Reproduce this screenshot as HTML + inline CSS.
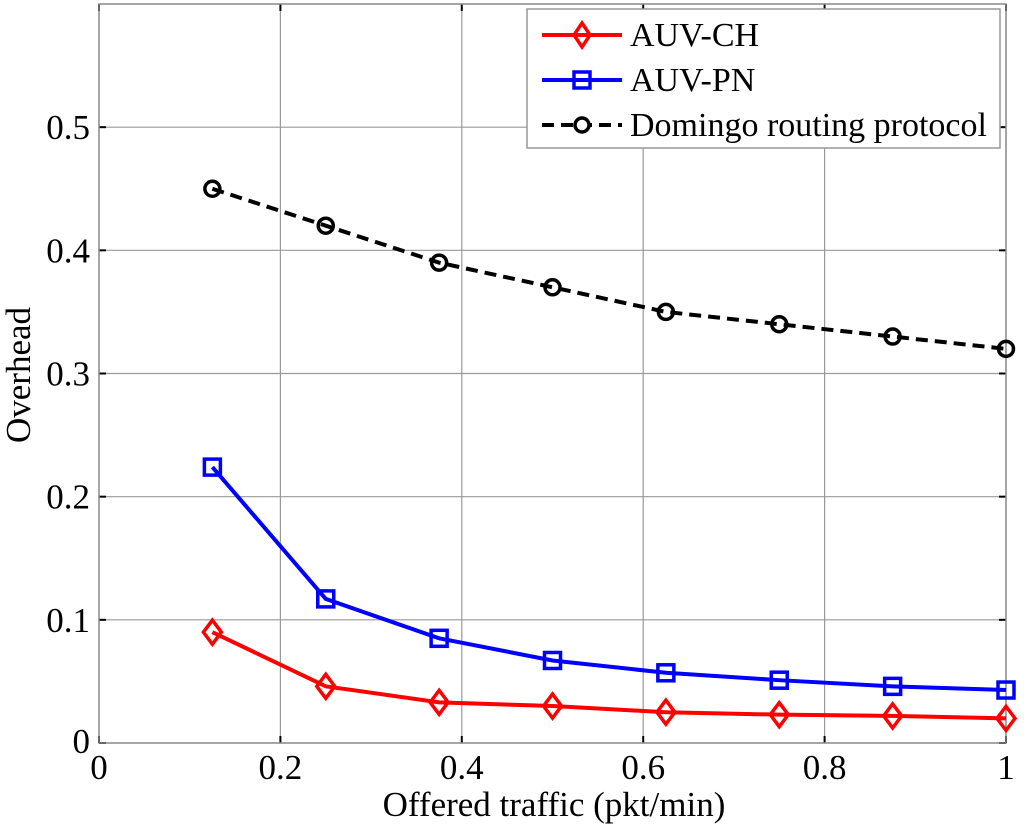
<!DOCTYPE html>
<html><head><meta charset="utf-8"><style>body{margin:0;background:#fff}svg{display:block}text{font-family:"Liberation Serif",serif;fill:#000}</style></head>
<body>
<svg id="chart" width="1024" height="831">
<rect width="1024" height="831" fill="#fff"/>
<g id="grid"></g>
<g id="axes"></g>
<g id="series"></g>
<text x="554" y="816" font-size="35" text-anchor="middle">Offered traffic (pkt/min)</text>
<text transform="translate(30,375) rotate(-90)" font-size="35" text-anchor="middle">Overhead</text>
<g>
<rect x="527" y="9" width="473" height="139" fill="#fff" stroke="#999" stroke-width="1.5"/>
<g>
<line x1="542" y1="35" x2="622" y2="35" stroke="#f00" stroke-width="4"/>
<path d="M582,23 L590,35 L582,47 L574,35Z" fill="none" stroke="#f00" stroke-width="3.5"/>
<text x="630" y="46" font-size="34">AUV-CH</text></g>
<g>
<line x1="542" y1="80" x2="622" y2="80" stroke="#00f" stroke-width="4"/>
<rect x="574" y="72" width="16" height="16" fill="none" stroke="#00f" stroke-width="3.5"/>
<text x="630" y="91" font-size="34">AUV-PN</text></g>
<g>
<line x1="542" y1="125" x2="622" y2="125" stroke="#000" stroke-width="4" stroke-dasharray="12,7"/>
<circle cx="582" cy="125" r="7" fill="#fff" stroke="#000" stroke-width="3.5"/>
<text x="630" y="136" font-size="34">Domingo routing protocol</text></g>
</g>
</svg>
<script>
const xValues=[0.125,0.25,0.375,0.5,0.625,0.75,0.875,1];
const chValues=[0.090,0.046,0.033,0.030,0.025,0.023,0.022,0.020];
const pnValues=[0.224,0.117,0.085,0.067,0.057,0.051,0.046,0.043];
const domValues=[0.45,0.42,0.39,0.37,0.35,0.34,0.33,0.32];
const xTicks=[0,0.2,0.4,0.6,0.8,1];
const xTickLabels=["0","0.2","0.4","0.6","0.8","1"];
const yTicks=[0,0.1,0.2,0.3,0.4,0.5];
const yTickLabels=["0","0.1","0.2","0.3","0.4","0.5"];
const NS="http://www.w3.org/2000/svg";
const L=99,R=1006,T=4,B=743;
function sx(v){return L+(R-L)*v;}
function sy(v){return B-(B-T)*v/0.6;}
function mk(tag,attrs,parent){const e=document.createElementNS(NS,tag);for(const k in attrs)e.setAttribute(k,attrs[k]);parent.appendChild(e);return e;}
const grid=document.getElementById('grid'),axes=document.getElementById('axes'),ser=document.getElementById('series');
xTicks.forEach((t,i)=>{
 if(t>0&&t<1){const g=mk('line',{x1:sx(t),x2:sx(t),y1:T,y2:B,stroke:'#999','stroke-width':1.2},grid);
 
 }
 const tk=mk('text',{x:sx(t),y:B+36,'font-size':35,'text-anchor':'middle'},axes);tk.textContent=xTickLabels[i];
 
 
 mk('line',{x1:sx(t),x2:sx(t),y1:B,y2:B-7,stroke:'#000','stroke-width':2},axes);
 mk('line',{x1:sx(t),x2:sx(t),y1:T,y2:T+7,stroke:'#000','stroke-width':2},axes);
});
yTicks.forEach((t,i)=>{
 if(t>0){const g=mk('line',{x1:L,x2:R,y1:sy(t),y2:sy(t),stroke:'#999','stroke-width':1.2},grid);
 
 }
 const tk=mk('text',{x:L-9,y:sy(t)+(t===0?10:12),'font-size':35,'text-anchor':'end'},axes);tk.textContent=yTickLabels[i];
 
 
 mk('line',{x1:L,x2:L+7,y1:sy(t),y2:sy(t),stroke:'#000','stroke-width':2},axes);
 mk('line',{x1:R,x2:R-7,y1:sy(t),y2:sy(t),stroke:'#000','stroke-width':2},axes);
});
const fr=mk('rect',{x:L,y:T,width:R-L,height:B-T,fill:'none',stroke:'#888','stroke-width':1.5},axes);


function draw(vals,color,dash,marker,name){
 const g=mk('g',{},ser);
 
 
 const pts=vals.map((v,i)=>sx(xValues[i])+','+sy(v)).join(' ');
 const a={points:pts,fill:'none',stroke:color,'stroke-width':4};if(dash)a['stroke-dasharray']=dash;
 mk('polyline',a,g);
 vals.forEach((v,i)=>{const x=sx(xValues[i]),y=sy(v);let m;
  if(marker==='d')m=mk('path',{d:`M${x},${y-12}L${x+9},${y}L${x},${y+12}L${x-9},${y}Z`,fill:'none',stroke:color,'stroke-width':3.5},g);
  else if(marker==='s')m=mk('rect',{x:x-8,y:y-8,width:16,height:16,fill:'none',stroke:color,'stroke-width':3.5},g);
  else m=mk('circle',{cx:x,cy:y,r:7.5,fill:'none',stroke:color,'stroke-width':3.5},g);
  
  });
}
draw(domValues,'#000','12,7','o','series-domingo');
draw(pnValues,'#00f',null,'s','series-auv-pn');
draw(chValues,'#f00',null,'d','series-auv-ch');
</script>
</body></html>
